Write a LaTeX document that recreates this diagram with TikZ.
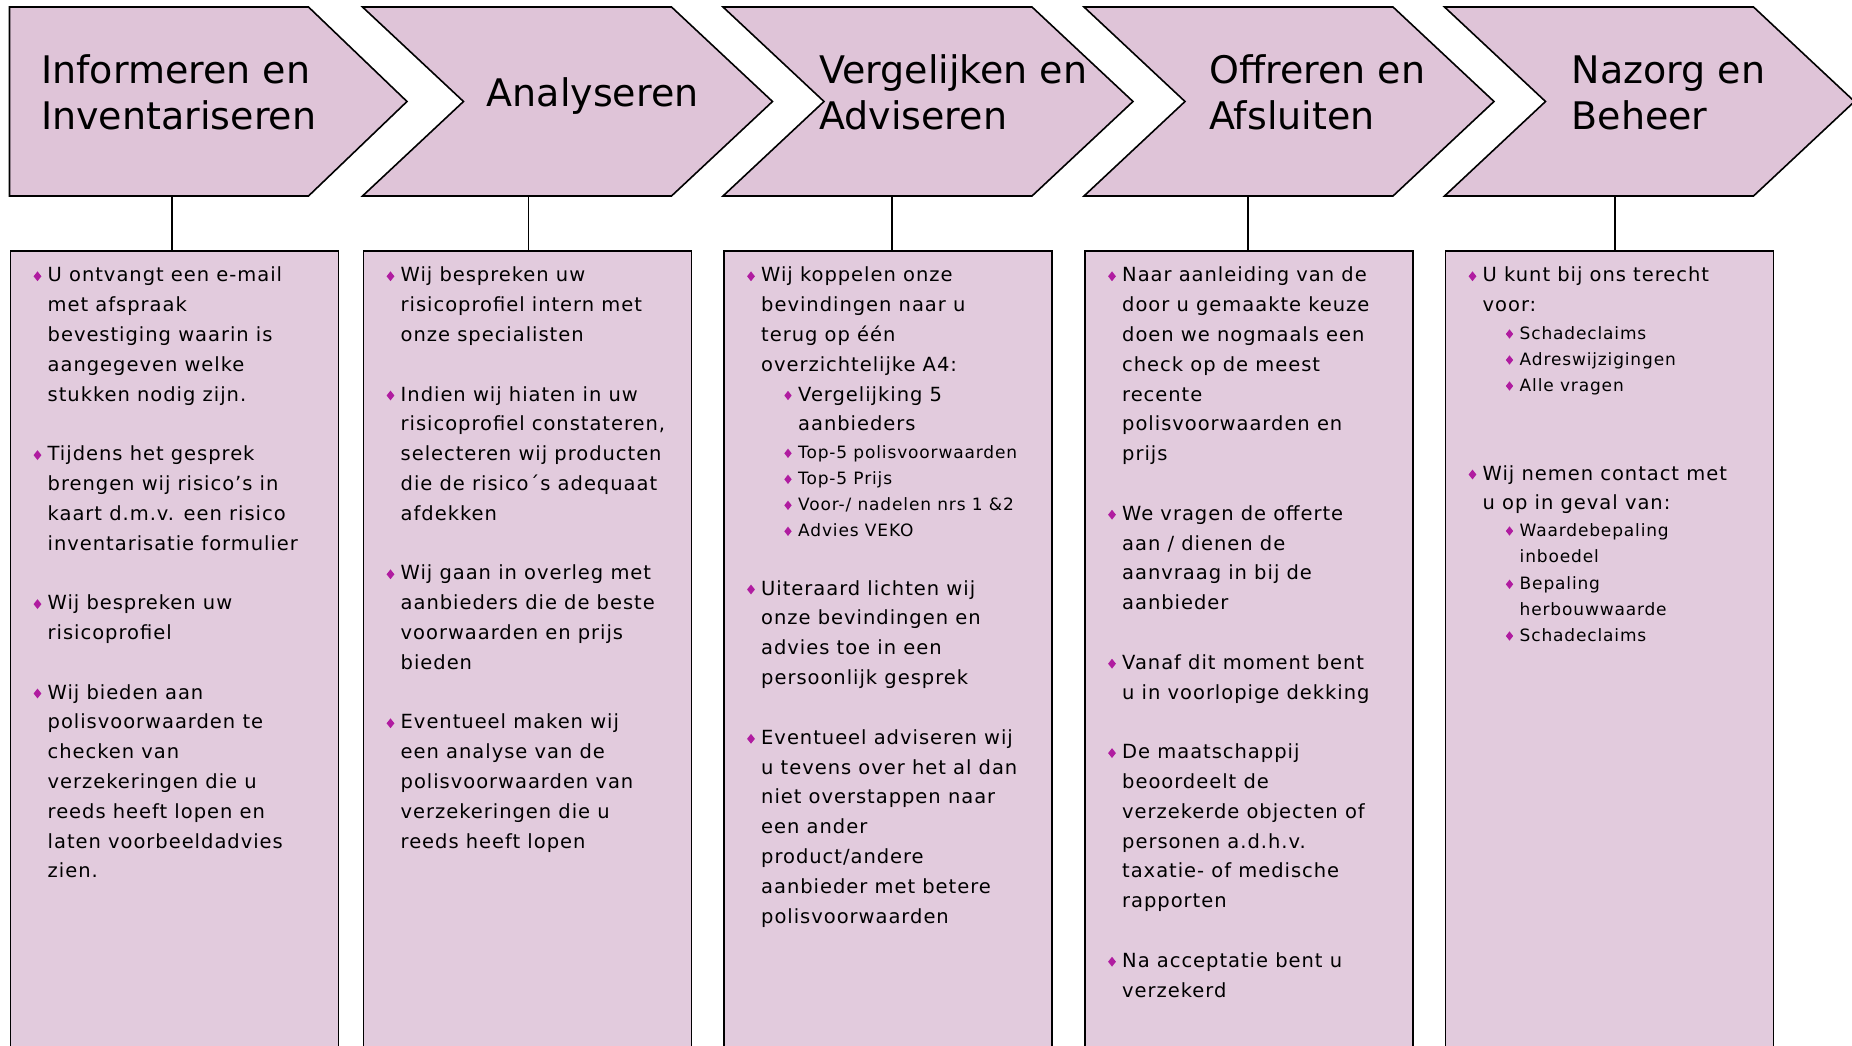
\documentclass[tikz,border=0pt]{standalone}
\usepackage{fontspec}
\setmainfont{DejaVu Sans}
\newfontfamily\bodyfont[LetterSpace=5]{DejaVu Sans}
\usetikzlibrary{shapes.geometric}
\definecolor{chevfill}{RGB}{223,196,216}
\definecolor{boxfill}{RGB}{226,203,221}
\definecolor{bulletc}{RGB}{176,28,160}
\tikzset{
  chev/.style={draw=black, line width=1.6pt, fill=chevfill, line join=miter},
  box/.style={draw=black, line width=1.6pt, fill=boxfill, anchor=north west,
    minimum width=328pt, minimum height=850pt, inner sep=0pt},
  conn/.style={draw=black, line width=1.6pt},
  ttl/.style={anchor=base west, inner sep=0pt, font=\fontsize{38}{45}\selectfont},
  mtxt/.style={anchor=base west, inner sep=0pt, font=\bodyfont\fontsize{19.5}{29.8}\selectfont},
  stxt/.style={anchor=base west, inner sep=0pt, font=\bodyfont\fontsize{17}{26}\selectfont},
  bul/.style={diamond, fill=bulletc, inner sep=0pt, minimum width=8pt, minimum height=10pt},
  sbul/.style={diamond, fill=bulletc, inner sep=0pt, minimum width=7.5pt, minimum height=9.5pt},
}
% #1 name, #2 box left, #3 first baseline, #4 lines
\newcommand\mitem[4]{%
  \node[bul] (#1) at ({#2+28},{#3-5.5}) {};
  \foreach \lin [count=\k from 0] in {#4} {\node[mtxt] (#1-\k) at ({#2+38},{#3+29.8*\k}) {\lin};}
}
\newcommand\sitem[4]{%
  \node[sbul] (#1) at ({#2+65},{#3-5}) {};
  \foreach \lin [count=\k from 0] in {#4} {\node[stxt] (#1-\k) at ({#2+75},{#3+26*\k}) {\lin};}
}
\newcommand\bl[1]{281.8+29.8*#1}
\begin{document}
\begin{tikzpicture}[x=1pt,y=-1pt]
\useasboundingbox (0,0) rectangle (1852,1046);
\clip (0,0) rectangle (1852,1046);

% chevrons
\draw[chev] (9.5,7) -- (308.5,7) -- (407,101.5) -- (308.5,196) -- (9.5,196) -- cycle;
\foreach \L [count=\n from 2] in {362.5,723,1084,1444.5} {
  \draw[chev] (\L,7) -- ({\L+309},7) -- ({\L+410},101.5) -- ({\L+309},196) -- (\L,196) -- ({\L+101},101.5) -- cycle;
}

% titles
\node[ttl] (T1a) at (41,84) {Informeren en};
\node[ttl] (T1b) at (41,129) {Inventariseren};
\node[ttl] (T2) at (486.5,106.5) {Analyseren};
\node[ttl] (T3a) at (819,84) {Vergelijken en};
\node[ttl] (T3b) at (819,129) {Adviseren};
\node[ttl] (T4a) at (1209,84) {Offreren en};
\node[ttl] (T4b) at (1209,129) {Afsluiten};
\node[ttl] (T5a) at (1571.5,84) {Nazorg en};
\node[ttl] (T5b) at (1571.5,129) {Beheer};

% boxes
\node[box] (B1) at (9.5,250) {};
\node[box] (B2) at (362.5,250) {};
\node[box] (B3) at (723,250) {};
\node[box] (B4) at (1084,250) {};
\node[box] (B5) at (1444.5,250) {};

% connectors
\coordinate (C1) at (172,196);
\coordinate (C2) at (528.5,196);
\coordinate (C3) at (892,196);
\coordinate (C4) at (1248,196);
\coordinate (C5) at (1615,196);
\foreach \n in {1,...,5} {\draw[conn] (C\n) -- (C\n |- B\n.north);}

% box 1
\mitem{a1}{9.5}{\bl{0}}{{U ontvangt een e-mail},{met afspraak},{bevestiging waarin is},{aangegeven welke},{stukken nodig zijn.}}
\mitem{a2}{9.5}{\bl{6}}{{Tijdens het gesprek},{brengen wij risico’s in},{kaart d.m.v. een risico},{inventarisatie formulier}}
\mitem{a3}{9.5}{\bl{11}}{{Wij bespreken uw},{risicoprofiel}}
\mitem{a4}{9.5}{\bl{14}}{{Wij bieden aan},{polisvoorwaarden te},{checken van},{verzekeringen die u},{reeds heeft lopen en},{laten voorbeeldadvies},{zien.}}

% box 2
\mitem{b1}{362.5}{\bl{0}}{{Wij bespreken uw},{risicoprofiel intern met},{onze specialisten}}
\mitem{b2}{362.5}{\bl{4}}{{Indien wij hiaten in uw},{risicoprofiel constateren,},{selecteren wij producten},{die de risico´s adequaat},{afdekken}}
\mitem{b3}{362.5}{\bl{10}}{{Wij gaan in overleg met},{aanbieders die de beste},{voorwaarden en prijs},{bieden}}
\mitem{b4}{362.5}{\bl{15}}{{Eventueel maken wij},{een analyse van de},{polisvoorwaarden van},{verzekeringen die u},{reeds heeft lopen}}

% box 3
\mitem{c1}{723}{\bl{0}}{{Wij koppelen onze},{bevindingen naar u},{terug op één},{overzichtelijke A4:}}
\node[sbul] (c2) at ({723+65},{\bl{4}-5.5}) {};
\node[mtxt] (c2-0) at ({723+75},{\bl{4}}) {Vergelijking 5};
\node[mtxt] (c2-1) at ({723+75},{\bl{5}}) {aanbieders};
\sitem{c3}{723}{458.3}{{Top-5 polisvoorwaarden}}
\sitem{c4}{723}{484.3}{{Top-5 Prijs}}
\sitem{c5}{723}{510.3}{{Voor-/ nadelen nrs 1 \&2}}
\sitem{c6}{723}{536.3}{{Advies VEKO}}
\mitem{c7}{723}{595}{{Uiteraard lichten wij},{onze bevindingen en},{advies toe in een},{persoonlijk gesprek}}
\mitem{c8}{723}{744.3}{{Eventueel adviseren wij},{u tevens over het al dan},{niet overstappen naar},{een ander},{product/andere},{aanbieder met betere},{polisvoorwaarden}}

% box 4
\mitem{d1}{1084}{\bl{0}}{{Naar aanleiding van de},{door u gemaakte keuze},{doen we nogmaals een},{check op de meest},{recente},{polisvoorwaarden en},{prijs}}
\mitem{d2}{1084}{\bl{8}}{{We vragen de offerte},{aan / dienen de},{aanvraag in bij de},{aanbieder}}
\mitem{d3}{1084}{\bl{13}}{{Vanaf dit moment bent},{u in voorlopige dekking}}
\mitem{d4}{1084}{\bl{16}}{{De maatschappij},{beoordeelt de},{verzekerde objecten of},{personen a.d.h.v.},{taxatie- of medische},{rapporten}}
\mitem{d5}{1084}{\bl{23}}{{Na acceptatie bent u},{verzekerd}}

% box 5
\mitem{e1}{1444.5}{\bl{0}}{{U kunt bij ons terecht},{voor:}}
\sitem{e2}{1444.5}{339}{{Schadeclaims}}
\sitem{e3}{1444.5}{365}{{Adreswijzigingen}}
\sitem{e4}{1444.5}{391}{{Alle vragen}}
\mitem{e5}{1444.5}{480}{{Wij nemen contact met},{u op in geval van:}}
\sitem{e6}{1444.5}{536}{{Waardebepaling},{inboedel}}
\sitem{e7}{1444.5}{589.3}{{Bepaling},{herbouwwaarde}}
\sitem{e8}{1444.5}{641}{{Schadeclaims}}
\end{tikzpicture}
\end{document}
